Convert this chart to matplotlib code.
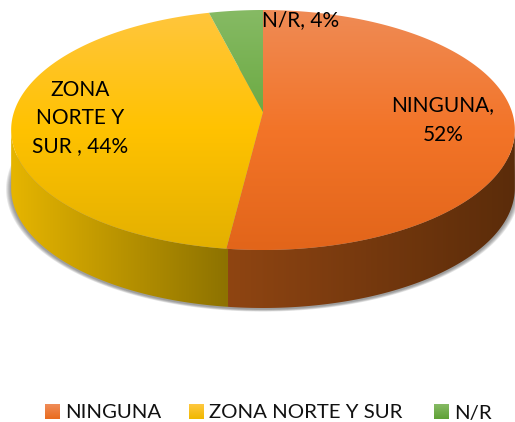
import numpy as np
import matplotlib
matplotlib.use('Agg')
import matplotlib.pyplot as plt
from matplotlib.colors import LinearSegmentedColormap
from matplotlib.patches import Polygon

labels = ['NINGUNA', 'ZONA NORTE Y SUR', 'N/R']
values = [52, 44, 4]
slice_text = ['NINGUNA,\n52%', 'ZONA\nNORTE Y\nSUR , 44%', 'N/R, 4%']

top_colors = [['#EF8B55', '#F37428', '#E2651A'],
              ['#FFC63E', '#FFC200', '#E3B000'],
              ['#86BA64', '#68A83E', '#5E9F36']]
wall_colors = [['#8F4512', '#5B2C0A'],
               ['#E6B500', '#8D7200']]
swatch_colors = [['#F08C58', '#E96C1E'], ['#FFC83F', '#F0B800'], ['#86BA64', '#5FA136']]

# perspective disc, pixel units
cx, cy = 263, 112
a, b, k = 249, 117.3, 0.15
depth = 58
W, H = 515, 422


def disc(t):
    u, v = np.sin(t), np.cos(t)
    d = 1 + k * v
    return cx + a * u / d, cy - b * v / d


def grad(ax, clip, colors, horizontal=False, box=(0, W, H, 0)):
    cmap = LinearSegmentedColormap.from_list('g', colors)
    g = np.linspace(0, 1, 256)
    g = g[None, :] if horizontal else g[:, None]
    im = ax.imshow(g, cmap=cmap, extent=box, aspect='auto', interpolation='bilinear', zorder=3)
    im.set_clip_path(Polygon(clip, closed=True, transform=ax.transData))


fig = plt.figure(figsize=(W / 100, H / 100), dpi=100)
plt.rcParams['font.family'] = 'Lato'
ax = fig.add_axes([0, 0, 1, 1])

# soft shadow under the wall
all_t = np.linspace(0, 2 * np.pi, 400)
ex, ey = disc(all_t)
mx, my = ex.mean(), ey.mean()
for i in range(1, 6):
    s = 1 + i * 0.004
    ax.fill(mx + (ex - mx) * s, my + (ey - my) * s + depth + 1, color='#404040', alpha=0.13, lw=0, zorder=1)

edges = np.cumsum([0] + values) / sum(values) * 2 * np.pi

# walls: only the front part of the rim, out to the side extremes
t = np.linspace(edges[0], edges[1], 400)
x, y = disc(t)
j = np.argmax(x)
wall = np.r_[np.c_[x[j:], y[j:]], np.c_[x[j:], y[j:] + depth][::-1]]
grad(ax, wall, wall_colors[0], horizontal=True, box=(228, 515, H, 0))

t = np.linspace(edges[1] - 0.012, edges[2], 400)
x, y = disc(t)
j = np.argmin(x)
wall = np.r_[np.c_[x[:j + 1], y[:j + 1]], np.c_[x[:j + 1], y[:j + 1] + depth][::-1]]
grad(ax, wall, wall_colors[1], horizontal=True, box=(11, 228, H, 0))

for i in range(3):
    t = np.linspace(edges[i], edges[i + 1], 300)
    x, y = disc(t)
    face = np.r_[[[cx, cy]], np.c_[x, y]]
    grad(ax, face, top_colors[i], box=(0, W, 250, 10))

ax.text(301, 20, slice_text[2], ha='center', va='center', fontsize=15, color='black', zorder=5)
ax.text(443, 120, slice_text[0], ha='center', va='center', fontsize=15, color='black', linespacing=1.6, zorder=5)
ax.text(80, 118, slice_text[1], ha='center', va='center', fontsize=15, color='black', linespacing=1.52, zorder=5)

# legend
swatch_x = [45, 189, 434]
for lab, sx, c in zip(labels, swatch_x, swatch_colors):
    ax.imshow(np.linspace(0, 1, 32)[:, None], cmap=LinearSegmentedColormap.from_list('s', c),
              extent=(sx, sx + 15, 419, 404), aspect='auto', zorder=3)
    ax.text(sx + 20, 413, lab, ha='left', va='center', fontsize=14.7, color='#111111', zorder=5)

ax.set_xlim(0, W)
ax.set_ylim(H, 0)
ax.axis('off')
fig.savefig('out.png', dpi=100, facecolor='white')
